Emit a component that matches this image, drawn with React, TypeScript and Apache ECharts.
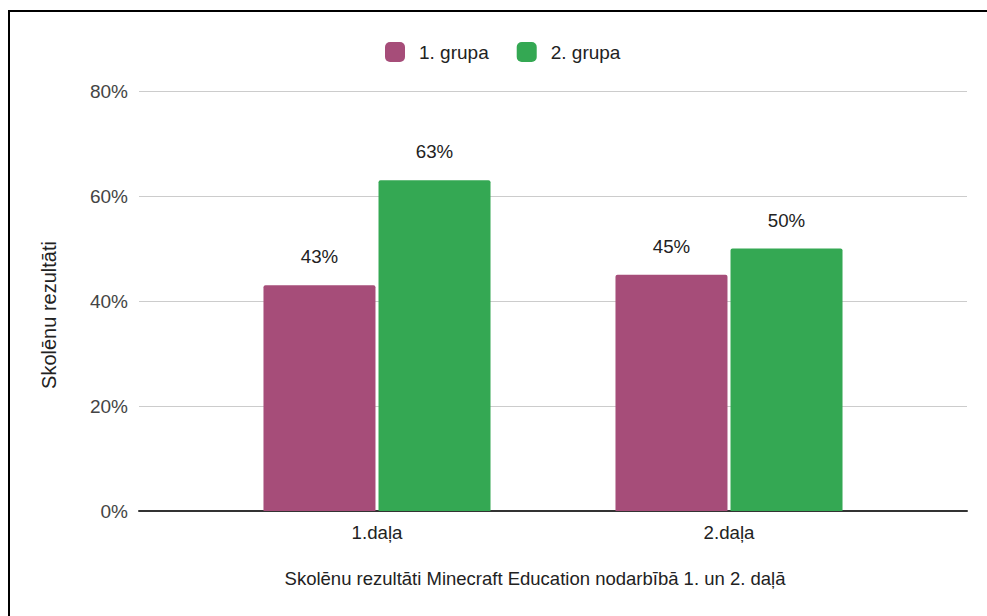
import React, { useEffect, useRef } from "react";
import * as echarts from "echarts";

const categories = ["1.daļa", "2.daļa"];
const group1 = [43, 45];
const group2 = [63, 50];
const seriesNames = ["1. grupa", "2. grupa"];
const yTicks = [0, 20, 40, 60, 80];
const xTitle = "Skolēnu rezultāti Minecraft Education nodarbībā 1. un 2. daļā";
const yTitle = "Skolēnu rezultāti";

const FONT = "'Liberation Sans', Arial, sans-serif";
const TEXT = "#222";

export default function App() {
  const ref = useRef<HTMLDivElement>(null);

  useEffect(() => {
    if (!ref.current) return;
    const chart = echarts.init(ref.current, undefined, { renderer: "svg" });
    const labelStyle = {
      show: true,
      position: "top" as const,
      distance: 19,
      formatter: "{c}%",
      color: TEXT,
      fontSize: 18.7,
      fontFamily: FONT,
    };
    const yMin = yTicks[0];
    const yMax = yTicks[yTicks.length - 1];
    chart.setOption({
      animation: false,
      backgroundColor: "#fff",
      textStyle: { fontFamily: FONT },
      legend: {
        top: 42,
        left: 385,
        padding: 0,
        itemWidth: 20,
        itemHeight: 20,
        itemGap: 28,
        icon: "roundRect",
        textStyle: {
          fontSize: 19,
          color: TEXT,
          fontFamily: FONT,
          padding: [0, 0, 0, 9],
        },
        data: seriesNames,
      },
      grid: [
        // frame: gridlines, value ticks and the baseline
        { left: 139, right: 20, top: 91, bottom: 105 },
        // bars
        { left: 201, right: 82, top: 91, bottom: 105 },
      ],
      xAxis: [
        {
          gridIndex: 0,
          type: "category",
          data: categories,
          axisLine: { lineStyle: { color: "#333", width: 2 } },
          axisTick: { show: false },
          axisLabel: { show: false },
        },
        {
          gridIndex: 1,
          type: "category",
          data: categories,
          axisLine: { show: false },
          axisTick: { show: false },
          axisLabel: { fontSize: 18.7, color: TEXT, margin: 12, fontFamily: FONT },
        },
      ],
      yAxis: [
        {
          gridIndex: 0,
          type: "value",
          min: yMin,
          max: yMax,
          interval: 20,
          axisLine: { show: false },
          axisTick: { show: false },
          axisLabel: {
            formatter: "{value}%",
            fontSize: 19,
            color: "#444",
            margin: 11,
            fontFamily: FONT,
          },
          splitLine: { lineStyle: { color: "#ccc", width: 1 } },
        },
        {
          gridIndex: 1,
          type: "value",
          min: yMin,
          max: yMax,
          interval: 20,
          show: false,
          splitLine: { show: false },
        },
      ],
      graphic: [
        {
          type: "text",
          x: 48.5,
          y: 315,
          rotation: Math.PI / 2,
          style: {
            text: yTitle,
            fontSize: 20,
            fill: TEXT,
            fontFamily: FONT,
            align: "center",
            verticalAlign: "middle",
          },
        },
        {
          type: "text",
          x: 535,
          y: 578,
          style: {
            text: xTitle,
            fontSize: 18.5,
            fill: TEXT,
            fontFamily: FONT,
            align: "center",
            verticalAlign: "middle",
          },
        },
        {
          type: "polyline",
          shape: { points: [[9, 616], [9, 11], [987, 11]] },
          style: { stroke: "#000", lineWidth: 2, fill: "none" },
          z: 100,
        },
      ],
      series: [
        {
          name: seriesNames[0],
          type: "bar",
          xAxisIndex: 1,
          yAxisIndex: 1,
          data: group1,
          barGap: "2.7%",
          barCategoryGap: "35.5%",
          itemStyle: { color: "#a64d79", borderRadius: [2, 2, 0, 0] },
          label: labelStyle,
        },
        {
          name: seriesNames[1],
          type: "bar",
          xAxisIndex: 1,
          yAxisIndex: 1,
          data: group2,
          itemStyle: { color: "#34a853", borderRadius: [2, 2, 0, 0] },
          label: labelStyle,
        },
      ],
    });
    return () => chart.dispose();
  }, []);

  return (
    <div
      ref={ref}
      style={{ position: "fixed", left: 0, top: 0, width: 987, height: 616 }}
    />
  );
}
